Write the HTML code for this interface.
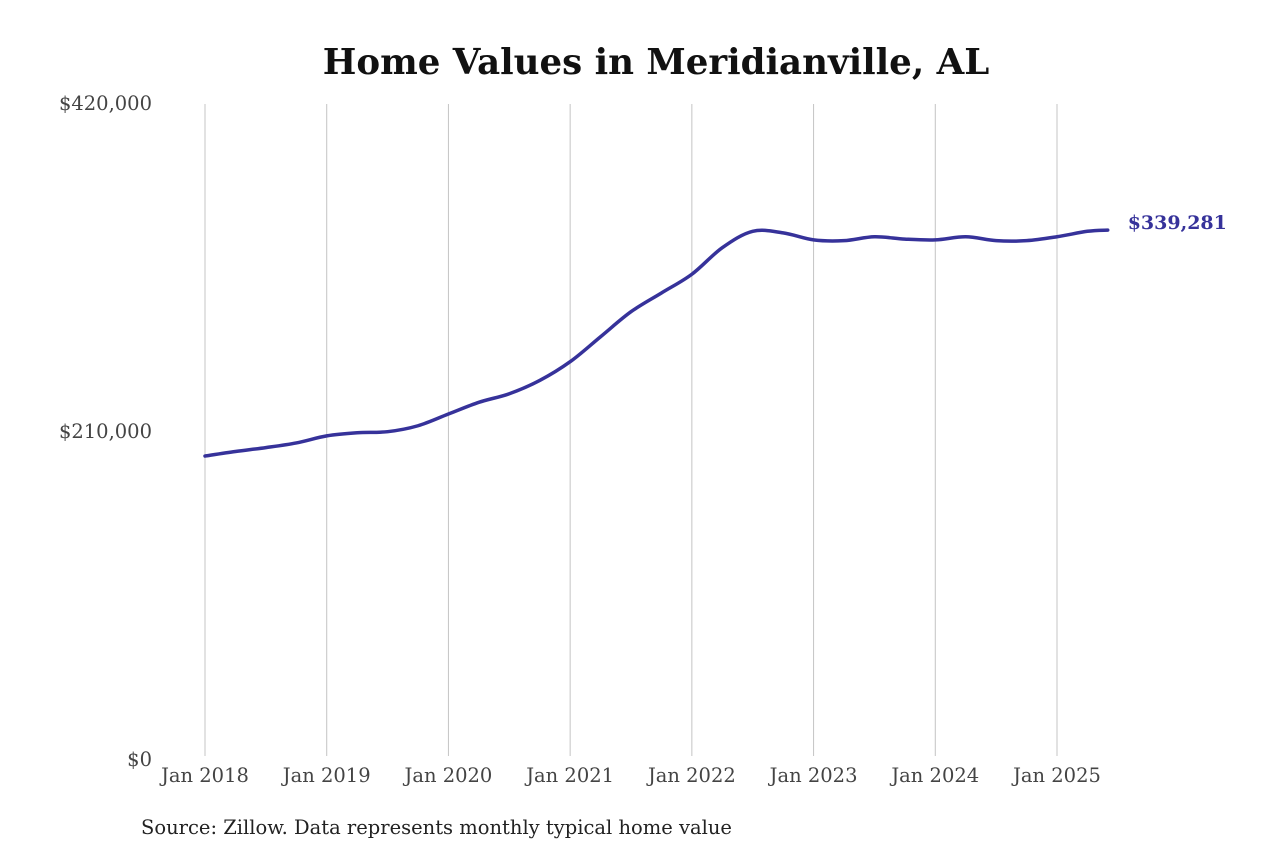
<!DOCTYPE html>
<html><head><meta charset="utf-8"><style>
body{margin:0;background:#fff;}
svg{display:block;font-family:"DejaVu Serif","Liberation Serif",serif;}
</style></head><body>
<svg id="chart" width="1280" height="853">
<text x="656" y="74" text-anchor="middle" font-size="35.6" font-weight="bold" fill="#111">Home Values in Meridianville, AL</text>
<g id="grid"></g>
<g id="yaxis"></g>
<g id="xaxis"></g>
<path id="line" fill="none" stroke="#36329a" stroke-width="3.5" stroke-linejoin="round" stroke-linecap="round"/>
<text id="endlabel" font-size="19" font-weight="bold" fill="#36329a"></text>
<text x="141" y="834" font-size="19.5" fill="#222">Source: Zillow. Data represents monthly typical home value</text>
</svg>
<script>
const months = [0,3,6,9,12,15,18,21,24,27,30,33,36,39,42,45,48,51,54,57,60,63,66,69,72,75,78,81,84,87,89];
const values = [194.6,197.5,200,203,207.5,209.5,210.2,214,221.5,229,234.5,243,255,271,287,299,311,328,338.5,337.5,333,332.5,335,333.5,333,335,332.5,332.5,335,338.5,339.281];
const yTicks = [0,210000,420000];
const yTickLabels = ["$0","$210,000","$420,000"];
const xTickMonths = [0,12,24,36,48,60,72,84];
const xTickLabels = ["Jan 2018","Jan 2019","Jan 2020","Jan 2021","Jan 2022","Jan 2023","Jan 2024","Jan 2025"];
const endLabel = "$339,281";

const NS="http://www.w3.org/2000/svg";
const x = m => 205 + m*(1057-205)/84;
const y = v => 760 - v/420000*656;
const grid=document.getElementById('grid'), ya=document.getElementById('yaxis'), xa=document.getElementById('xaxis');
xTickMonths.forEach((m,i)=>{
  const l=document.createElementNS(NS,'line');
  l.setAttribute('x1',x(m));l.setAttribute('x2',x(m));l.setAttribute('y1',104);l.setAttribute('y2',756);
  l.setAttribute('stroke','#c4c4c4');l.setAttribute('stroke-width','1');
  
  
  grid.appendChild(l);
  const t=document.createElementNS(NS,'text');
  t.setAttribute('x',x(m));t.setAttribute('y',782);t.setAttribute('text-anchor','middle');
  t.setAttribute('font-size','19.5');t.setAttribute('fill','#444');t.textContent=xTickLabels[i];
  
  
  xa.appendChild(t);
});
yTicks.forEach((v,i)=>{
  const t=document.createElementNS(NS,'text');
  t.setAttribute('x',152);t.setAttribute('y',y(v)+6);t.setAttribute('text-anchor','end');
  t.setAttribute('font-size','19.5');t.setAttribute('fill','#444');t.textContent=yTickLabels[i];
  
  
  ya.appendChild(t);
});
const pts=months.map((m,i)=>[x(m),y(values[i]*1000)]);
let d='M'+pts[0][0]+','+pts[0][1];
for(let i=0;i<pts.length-1;i++){
  const p0=pts[Math.max(0,i-1)],p1=pts[i],p2=pts[i+1],p3=pts[Math.min(pts.length-1,i+2)];
  const c1=[p1[0]+(p2[0]-p0[0])/6,p1[1]+(p2[1]-p0[1])/6];
  const c2=[p2[0]-(p3[0]-p1[0])/6,p2[1]-(p3[1]-p1[1])/6];
  d+=' C'+c1+' '+c2+' '+p2;
}
document.getElementById('line').setAttribute('d',d);
const last=pts[pts.length-1];
const el=document.getElementById('endlabel');
el.setAttribute('x',last[0]+20);el.setAttribute('y',last[1]-1);el.textContent=endLabel;
</script>
</body></html>
